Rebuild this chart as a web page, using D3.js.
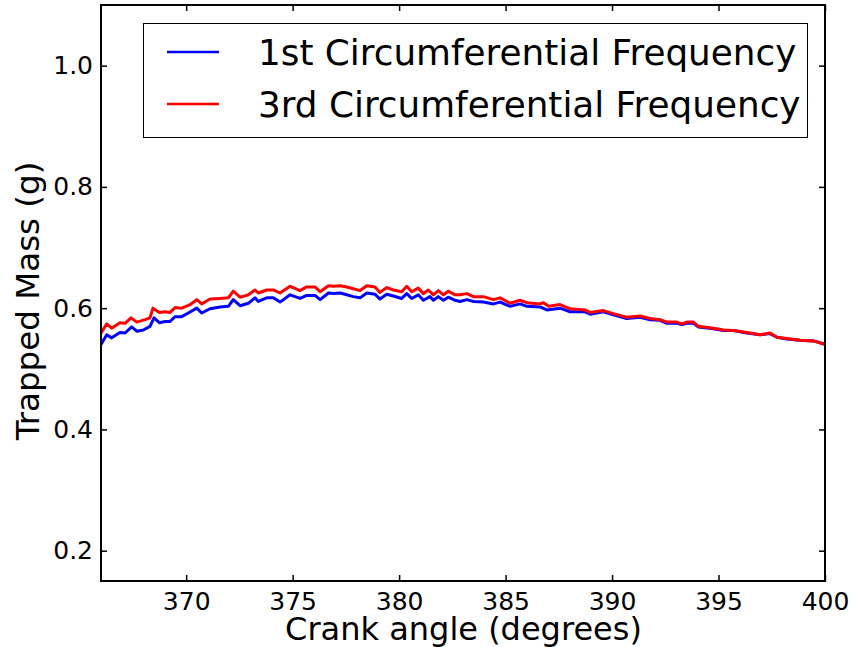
<!DOCTYPE html>
<html>
<head>
<meta charset="utf-8">
<script src="https://cdn.jsdelivr.net/npm/d3@7/dist/d3.min.js"></script>
<style>
  html, body { margin: 0; padding: 0; background: #fff; }
  svg { display: block; font-family: "DejaVu Sans", sans-serif; }
</style>
</head>
<body>
<svg id="chart" width="853" height="647"></svg>
<script>
// ---- data ----
const crank1 = [366.0, 366.27, 366.5, 366.89, 367.13, 367.44, 367.68, 367.99, 368.3, 368.49, 368.74, 369.01, 369.24, 369.48, 369.79,
  370.1, 370.5, 370.73, 371.12, 371.59, 371.98, 372.21, 372.53, 372.92, 373.23, 373.39, 373.78, 374.09, 374.41, 374.88,
  375.35, 375.66, 376.05, 376.29, 376.68, 376.91, 377.23, 377.54, 377.85, 378.17, 378.48, 378.87, 379.1, 379.42, 379.73,
  380.12, 380.36, 380.59, 380.9, 381.14, 381.45, 381.61, 381.84, 382.08, 382.31, 382.63, 382.86, 383.18, 383.49, 383.96,
  384.43, 384.74, 385.21, 385.68, 386.0, 386.62, 386.94, 387.56, 388.03, 388.73, 388.97, 389.59, 390.06, 390.69, 391.32,
  391.79, 392.26, 392.57, 393.04, 393.28, 393.51, 393.82, 394.06, 394.76, 395.23, 395.7, 396.33, 396.95, 397.42, 397.74,
  398.21, 398.83, 399.46, 400.0];
const mass1 = [0.540, 0.556, 0.551, 0.560, 0.559, 0.569, 0.562, 0.564, 0.570, 0.584, 0.576, 0.578, 0.578, 0.586, 0.586,
  0.592, 0.600, 0.592, 0.599, 0.602, 0.603, 0.614, 0.604, 0.608, 0.617, 0.611, 0.617, 0.617, 0.610, 0.622,
  0.616, 0.621, 0.621, 0.614, 0.625, 0.624, 0.625, 0.622, 0.619, 0.617, 0.625, 0.623, 0.615, 0.623, 0.620,
  0.616, 0.624, 0.616, 0.622, 0.613, 0.619, 0.613, 0.619, 0.613, 0.618, 0.613, 0.611, 0.614, 0.611, 0.610,
  0.607, 0.610, 0.603, 0.607, 0.603, 0.602, 0.597, 0.600, 0.594, 0.594, 0.590, 0.594, 0.589, 0.583, 0.585,
  0.581, 0.580, 0.575, 0.575, 0.573, 0.575, 0.575, 0.569, 0.566, 0.563, 0.563, 0.559, 0.556, 0.558, 0.552,
  0.549, 0.547, 0.546, 0.541];

const crank3 = [366.0, 366.27, 366.5, 366.89, 367.13, 367.41, 367.68, 368.07, 368.3, 368.44, 368.74, 369.01, 369.24, 369.48, 369.79,
  370.19, 370.5, 370.73, 371.12, 371.59, 371.98, 372.21, 372.53, 372.92, 373.23, 373.39, 373.78, 374.09, 374.41, 374.88,
  375.35, 375.66, 376.05, 376.29, 376.68, 376.91, 377.23, 377.54, 377.85, 378.17, 378.48, 378.87, 379.1, 379.42, 379.73,
  380.12, 380.36, 380.59, 380.9, 381.14, 381.37, 381.61, 381.84, 382.08, 382.31, 382.63, 382.86, 383.18, 383.49, 383.96,
  384.43, 384.74, 385.21, 385.68, 386.0, 386.62, 386.78, 387.02, 387.56, 388.03, 388.73, 388.97, 389.59, 390.06, 390.69,
  391.32, 391.79, 392.26, 392.57, 393.04, 393.28, 393.51, 393.82, 394.06, 394.76, 395.23, 395.7, 396.33, 396.95, 397.42,
  397.74, 398.21, 398.83, 399.46, 400.0];
const mass3 = [0.559, 0.574, 0.567, 0.576, 0.575, 0.584, 0.577, 0.581, 0.584, 0.600, 0.593, 0.594, 0.593, 0.601, 0.600,
  0.606, 0.614, 0.607, 0.615, 0.616, 0.617, 0.628, 0.618, 0.622, 0.630, 0.625, 0.630, 0.630, 0.625, 0.636,
  0.629, 0.635, 0.635, 0.627, 0.637, 0.636, 0.637, 0.635, 0.632, 0.629, 0.637, 0.635, 0.626, 0.634, 0.630,
  0.627, 0.636, 0.627, 0.633, 0.624, 0.630, 0.622, 0.629, 0.622, 0.628, 0.622, 0.622, 0.624, 0.619, 0.619,
  0.614, 0.617, 0.608, 0.613, 0.609, 0.607, 0.609, 0.603, 0.606, 0.599, 0.597, 0.593, 0.596, 0.591, 0.585,
  0.587, 0.583, 0.581, 0.577, 0.577, 0.574, 0.577, 0.577, 0.570, 0.567, 0.564, 0.563, 0.560, 0.556, 0.559,
  0.552, 0.550, 0.547, 0.546, 0.540];

const xTicks = [370, 375, 380, 385, 390, 395, 400];
const yTicks = [0.2, 0.4, 0.6, 0.8, 1.0];
const seriesNames = ["1st Circumferential Frequency", "3rd Circumferential Frequency"];
const seriesColors = ["#0000ff", "#ff0000"];
const xLabel = "Crank angle (degrees)";
const yLabel = "Trapped Mass (g)";

// ---- layout ----
const margin = { left: 101, top: 5, right: 825, bottom: 581 };
const svg = d3.select("#chart");

const x = d3.scaleLinear().domain([366, 400]).range([margin.left, margin.right]);
const y = d3.scaleLinear().domain([0.15, 1.1]).range([margin.bottom, margin.top]);

// lines
const series = [
  { name: seriesNames[0], color: seriesColors[0], data: crank1.map((c, i) => [c, mass1[i]]) },
  { name: seriesNames[1], color: seriesColors[1], data: crank3.map((c, i) => [c, mass3[i]]) }
];
const line = d3.line().x(d => x(d[0])).y(d => y(d[1]));

svg.append("defs").append("clipPath").attr("id", "clip")
  .append("rect").attr("x", margin.left).attr("y", margin.top)
  .attr("width", margin.right - margin.left).attr("height", margin.bottom - margin.top);

svg.append("g").attr("clip-path", "url(#clip)")
  .selectAll("path").data(series).join("path")
  .attr("d", d => line(d.data))
  .attr("fill", "none")
  .attr("stroke", d => d.color)
  .attr("stroke-width", 3)
  .attr("stroke-linejoin", "round");

// axes (inward ticks on all four sides)
const fontTick = 25;
function styleAxis(g) {
  g.select(".domain").remove();
  g.selectAll(".tick line").attr("stroke", "#000").attr("stroke-width", 1.5);
  g.selectAll(".tick text").attr("font-size", fontTick).attr("fill", "#000")
    .attr("font-family", "DejaVu Sans, sans-serif");
}
svg.append("g").attr("transform", `translate(0,${margin.bottom})`)
  .call(d3.axisBottom(x).tickValues(xTicks).tickFormat(d3.format("d")).tickSize(-6).tickPadding(11))
  .call(styleAxis);
svg.append("g").attr("transform", `translate(0,${margin.top})`)
  .call(d3.axisTop(x).tickValues(xTicks).tickFormat("").tickSize(-6))
  .call(styleAxis);
svg.append("g").attr("transform", `translate(${margin.left},0)`)
  .call(d3.axisLeft(y).tickValues(yTicks).tickFormat(d3.format(".1f")).tickSize(-6).tickPadding(8))
  .call(styleAxis);
svg.append("g").attr("transform", `translate(${margin.right},0)`)
  .call(d3.axisRight(y).tickValues(yTicks).tickFormat("").tickSize(-6))
  .call(styleAxis);

// frame
svg.append("rect")
  .attr("x", margin.left).attr("y", margin.top)
  .attr("width", margin.right - margin.left).attr("height", margin.bottom - margin.top)
  .attr("fill", "none").attr("stroke", "#000").attr("stroke-width", 2);

// axis labels
svg.append("text")
  .attr("x", (margin.left + margin.right) / 2 + 0.5).attr("y", 640)
  .attr("text-anchor", "middle").attr("font-size", 32).attr("fill", "#000")
  .text(xLabel);
svg.append("text")
  .attr("transform", `translate(39,${301}) rotate(-90)`)
  .attr("text-anchor", "middle").attr("font-size", 32.5).attr("fill", "#000")
  .text(yLabel);

// legend
const lg = svg.append("g");
lg.append("rect").attr("x", 143.5).attr("y", 23.5).attr("width", 664).attr("height", 114)
  .attr("fill", "#fff").attr("stroke", "#000").attr("stroke-width", 1);
series.forEach((s, i) => {
  const yy = 52 + i * 52;
  lg.append("line").attr("x1", 167).attr("x2", 219).attr("y1", yy).attr("y2", yy)
    .attr("stroke", s.color).attr("stroke-width", 2.6);
  lg.append("text").attr("x", 258).attr("y", yy + 13)
    .attr("font-size", 35.8).attr("fill", "#000").text(s.name);
});
</script>
</body>
</html>
